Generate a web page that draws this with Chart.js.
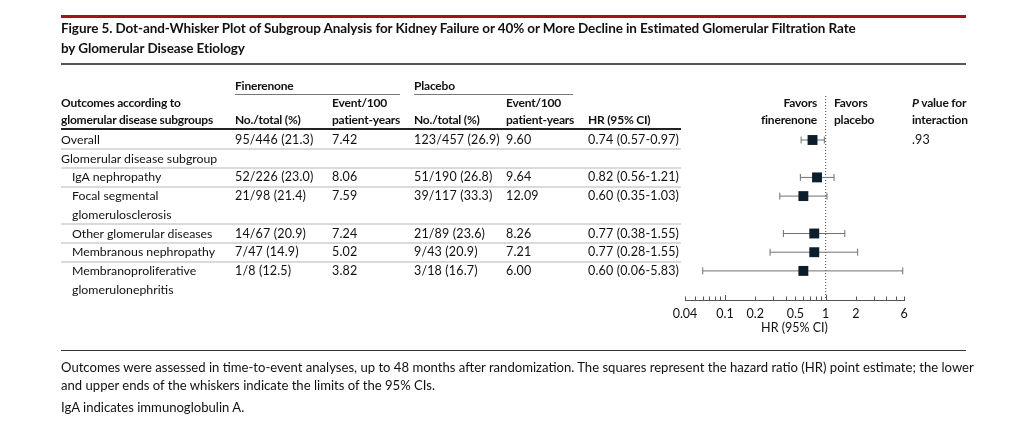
<!DOCTYPE html>
<html lang="en">
  <head>
    <meta charset="UTF-8" />
    <title>Figure 5</title>
    <style>
      html,
      body {
        margin: 0;
        padding: 0;
        background: #fff;
      }

      #page {
        position: relative;
        width: 1024px;
        height: 429px;
        overflow: hidden;
        font-family: Lato, "Noto Sans", sans-serif;
        color: #111;
      }

      #plot {
        position: absolute;
        left: 0;
        top: 0;
        width: 1024px;
        height: 429px;
      }

      .t {
        position: absolute;
        white-space: nowrap;
        font-size: 12.3px;
        line-height: 16px;
        z-index: 2;
      }

      .t.n {
        font-size: 12.5px;
        letter-spacing: 0.15px;
      }

      .t.b {
        font-size: 12px;
        font-weight: 700;
        letter-spacing: -0.2px;
      }

      .t.r {
        transform: translateX(-100%);
        text-align: right;
      }

      .t.note {
        font-size: 13.1px;
      }

      .t.title {
        font-size: 13.5px;
        font-weight: 700;
        letter-spacing: -0.1px;
        line-height: 20px;
      }

      .rule {
        position: absolute;
        z-index: 1;
      }
    </style>
  </head>
  <body>
    <div id="page">
      <canvas id="plot" width="1024" height="429"></canvas>
    </div>

    <script src="https://cdn.jsdelivr.net/npm/chart.js@4.4.0/dist/chart.umd.min.js"></script>
    <script>
      const ROW_LABELS = [
        ["Overall"],
        ["Glomerular disease subgroup"],
        ["IgA nephropathy"],
        ["Focal segmental", "glomerulosclerosis"],
        ["Other glomerular diseases"],
        ["Membranous nephropathy"],
        ["Membranoproliferative", "glomerulonephritis"],
      ];
      const ROW_INDENT = [0, 0, 1, 1, 1, 1, 1];
      const FIN_NO = ["95/446 (21.3)", "", "52/226 (23.0)", "21/98 (21.4)", "14/67 (20.9)", "7/47 (14.9)", "1/8 (12.5)"];
      const FIN_RATE = ["7.42", "", "8.06", "7.59", "7.24", "5.02", "3.82"];
      const PLA_NO = ["123/457 (26.9)", "", "51/190 (26.8)", "39/117 (33.3)", "21/89 (23.6)", "9/43 (20.9)", "3/18 (16.7)"];
      const PLA_RATE = ["9.60", "", "9.64", "12.09", "8.26", "7.21", "6.00"];
      const HR_TEXT = ["0.74 (0.57-0.97)", "", "0.82 (0.56-1.21)", "0.60 (0.35-1.03)", "0.77 (0.38-1.55)", "0.77 (0.28-1.55)", "0.60 (0.06-5.83)"];
      const P_INTERACTION = [".93", "", "", "", "", "", ""];

      // plotted values
      const HR = [0.74, null, 0.82, 0.6, 0.77, 0.77, 0.6];
      const CI_LOW = [0.57, null, 0.56, 0.35, 0.38, 0.28, 0.06];
      const CI_HIGH = [0.97, null, 1.21, 1.03, 1.55, 2.08, 5.83];

      const AXIS_MIN = 0.04;
      const AXIS_MAX = 6;
      const AXIS_LABELS = [0.04, 0.1, 0.2, 0.5, 1, 2, 6];

      const TITLE = [
        "Figure 5. Dot-and-Whisker Plot of Subgroup Analysis for Kidney Failure or 40% or More Decline in Estimated Glomerular Filtration Rate",
        "by Glomerular Disease Etiology",
      ];
      const NOTES = [
        "Outcomes were assessed in time-to-event analyses, up to 48 months after randomization. The squares represent the hazard ratio (HR) point estimate; the lower",
        "and upper ends of the whiskers indicate the limits of the 95% CIs.",
      ];
      const NOTE_ABBR = "IgA indicates immunoglobulin A.";

      // layout
      const LEFT = 61;
      const RIGHT = 966;
      const TABLE_RIGHT = 681;
      const COLS = [235, 332, 414, 506, 588];
      const LINE_Y0 = 140;
      const LINE_H = 18.7;
      const PLOT_LEFT = 685;
      const PLOT_RIGHT = 904;
      const PLOT_TOP = 96;
      const PLOT_BOTTOM = 300;
      const XAXIS_H = 35;

      const page = document.getElementById("page");

      function text(str, x, y, cls, lh) {
        const d = document.createElement("div");
        d.className = "t " + (cls || "");
        d.textContent = str;
        d.style.left = x + "px";
        d.style.top = y - (lh || 16) / 2 + "px";
        page.appendChild(d);
        return d;
      }

      function rule(x, y, w, h, color) {
        const d = document.createElement("div");
        d.className = "rule";
        d.style.left = x + "px";
        d.style.top = y + "px";
        d.style.width = w + "px";
        d.style.height = h + "px";
        d.style.background = color;
        page.appendChild(d);
      }

      // title block
      rule(LEFT, 15, RIGHT - LEFT, 3, "#a3131d");
      text(TITLE[0], LEFT, 28, "title", 20);
      text(TITLE[1], LEFT, 48, "title", 20);
      rule(LEFT, 62.5, RIGHT - LEFT, 2, "#555");

      // column headers
      text("Finerenone", COLS[0], 86, "b");
      rule(COLS[0], 94, 165, 1, "#777");
      text("Placebo", COLS[2], 86, "b");
      rule(COLS[2], 94, 159, 1, "#777");
      text("Outcomes according to", LEFT, 103, "b");
      text("glomerular disease subgroups", LEFT, 120, "b");
      text("No./total (%)", COLS[0], 120, "b");
      text("Event/100", COLS[1], 103, "b");
      text("patient-years", COLS[1], 120, "b");
      text("No./total (%)", COLS[2], 120, "b");
      text("Event/100", COLS[3], 103, "b");
      text("patient-years", COLS[3], 120, "b");
      text("HR (95% CI)", COLS[4], 120, "b");
      text("Favors", 817, 103, "b r");
      text("finerenone", 817, 120, "b r");
      text("Favors", 834, 103, "b");
      text("placebo", 834, 120, "b");
      const pv = text("", 912, 103, "b");
      pv.innerHTML = "<i>P</i> value for";
      text("interaction", 912, 120, "b");
      rule(LEFT, 128, TABLE_RIGHT - LEFT, 2, "#222");

      // table body, one text line per slot
      const SLOTS = [];
      let slot = 0;
      ROW_LABELS.forEach((lines, i) => {
        SLOTS.push(slot);
        const y = LINE_Y0 + slot * LINE_H;
        if (i > 0) rule(LEFT, y - LINE_H / 2 - 1, TABLE_RIGHT - LEFT, 2, "#dadada");
        lines.forEach((l, k) => text(l, LEFT + ROW_INDENT[i] * 11, y + k * LINE_H));
        text(FIN_NO[i], COLS[0], y, "n");
        text(FIN_RATE[i], COLS[1], y, "n");
        text(PLA_NO[i], COLS[2], y, "n");
        text(PLA_RATE[i], COLS[3], y, "n");
        text(HR_TEXT[i], COLS[4], y, "n");
        text(P_INTERACTION[i], 912, y, "n");
        slot += lines.length;
      });

      // footnotes
      rule(LEFT, 349.5, RIGHT - LEFT, 1.5, "#333");
      text(NOTES[0], LEFT, 367, "note");
      text(NOTES[1], LEFT, 385, "note");
      text(NOTE_ABBR, LEFT, 407, "note");

      // dot-and-whisker panel
      const Y_MIN = (PLOT_TOP - LINE_Y0) / LINE_H;
      const Y_MAX = (PLOT_BOTTOM - LINE_Y0) / LINE_H;
      const rows = HR.map((v, i) => i).filter((i) => HR[i] !== null);

      const minorTicks = [];
      [0.01, 0.1, 1].forEach((d) => {
        for (let k = 1; k <= 9; k++) {
          const v = +(k * d).toPrecision(2);
          if (v >= AXIS_MIN && v <= AXIS_MAX) minorTicks.push(v);
        }
      });

      const tickMarks = {
        id: "tickMarks",
        afterDraw(chart) {
          const sx = chart.scales.x;
          const ctx = chart.ctx;
          ctx.save();
          ctx.strokeStyle = "#555";
          ctx.lineWidth = 1;
          for (const v of minorTicks) {
            const px = Math.round(sx.getPixelForValue(v)) + 0.5;
            const len = v === 0.1 || v === 1 ? 5 : 3.5;
            ctx.beginPath();
            ctx.moveTo(px, sx.top);
            ctx.lineTo(px, sx.top - len);
            ctx.stroke();
          }
          ctx.restore();
        },
      };

      const datasets = [
        {
          label: "HR",
          data: rows.map((i) => ({ x: HR[i], y: SLOTS[i] })),
          pointStyle: "rect",
          pointRadius: 7,
          pointBackgroundColor: "#0c1d2b",
          pointBorderWidth: 0,
          showLine: false,
          clip: false,
        },
        ...rows.map((i) => ({
          label: "CI " + i,
          data: [
            { x: CI_LOW[i], y: SLOTS[i] },
            { x: CI_HIGH[i], y: SLOTS[i] },
          ],
          showLine: true,
          borderColor: "#707070",
          borderWidth: 1,
          pointStyle: "line",
          pointRotation: 90,
          pointRadius: 3.5,
          pointBorderColor: "#707070",
          pointBorderWidth: 1,
          clip: false,
        })),
        {
          label: "no effect",
          data: [
            { x: 1, y: Y_MIN },
            { x: 1, y: Y_MAX },
          ],
          showLine: true,
          borderColor: "#444",
          borderWidth: 1,
          borderDash: [1, 2],
          pointRadius: 0,
          clip: false,
        },
      ];

      new Chart(document.getElementById("plot"), {
        type: "scatter",
        data: { datasets },
        options: {
          responsive: false,
          animation: false,
          devicePixelRatio: 1,
          layout: {
            padding: {
              left: PLOT_LEFT,
              right: 1024 - PLOT_RIGHT,
              top: PLOT_TOP,
              bottom: 429 - PLOT_BOTTOM - XAXIS_H,
            },
          },
          plugins: {
            legend: { display: false },
            tooltip: { enabled: false },
          },
          scales: {
            x: {
              type: "logarithmic",
              min: AXIS_MIN,
              max: AXIS_MAX,
              afterBuildTicks(scale) {
                scale.ticks = minorTicks.map((v) => ({ value: v }));
              },
              afterFit(scale) {
                scale.height = XAXIS_H;
              },
              grid: { display: false, drawTicks: false },
              border: { display: true, color: "#555", width: 1 },
              ticks: {
                autoSkip: false,
                maxRotation: 0,
                padding: 6,
                color: "#111",
                font: { family: "Lato", size: 12.5 },
                callback: (v) => (AXIS_LABELS.includes(+v.toPrecision(2)) ? String(+v.toPrecision(2)) : ""),
              },
              title: {
                display: true,
                text: "HR (95% CI)",
                color: "#111",
                font: { family: "Lato", size: 12.5 },
                padding: { top: 0, bottom: 0 },
              },
            },
            y: {
              type: "linear",
              display: false,
              reverse: true,
              min: Y_MIN,
              max: Y_MAX,
            },
          },
        },
        plugins: [tickMarks],
      });
    </script>
  </body>
</html>
